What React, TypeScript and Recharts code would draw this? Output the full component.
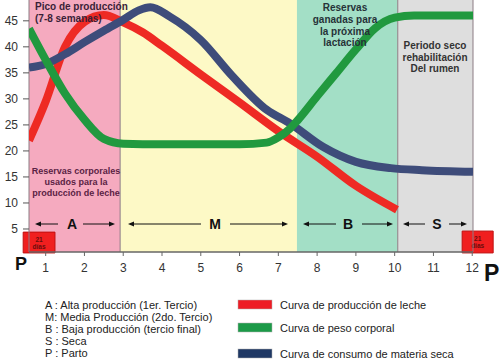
import React from 'react';
import {
  ComposedChart,
  Line,
  XAxis,
  YAxis,
  ReferenceArea,
  ReferenceLine,
} from 'recharts';

// month of lactation (x) and value
const milkMonths = [0.57, 1, 1.5, 2, 2.5, 3, 3.5, 4, 5, 6, 7, 8, 9, 10.06];
const milkValues = [22, 29.5, 40, 44.8, 46.1, 44.7, 42.8, 40.2, 34.7, 29.3, 23.8, 18.9, 13.3, 8.7];

const weightMonths = [0.57, 1, 1.5, 2, 2.5, 3, 4, 5, 6, 6.7, 7, 7.3, 7.5, 8, 8.5, 9, 9.5, 10, 10.5, 11, 12.02];
const weightValues = [43.5, 37.5, 31, 26, 22.3, 21.4, 21.3, 21.3, 21.3, 21.6, 22.6, 24.3, 25.9, 30.5, 35, 39.5, 43.6, 45.6, 46, 46, 46];

const intakeMonths = [0.57, 1, 1.5, 2, 2.5, 3, 3.4, 3.7, 4.2, 5, 5.8, 6.7, 7.3, 8.15, 9, 9.9, 10.7, 12.02];
const intakeValues = [36, 36.7, 38.6, 40.9, 43.1, 45.2, 47, 47.6, 45.8, 41.3, 34.5, 27.9, 25.3, 20.8, 17.9, 16.7, 16.3, 16];

const monthTicks = [1, 2, 3, 4, 5, 6, 7, 8, 9, 10, 11, 12];
const valueTicks = [5, 10, 15, 20, 25, 30, 35, 40, 45];

const stageStart = [0.57, 2.92, 7.48, 10.08];
const stageEnd = [2.92, 7.48, 10.08, 12.02];
const stageColors = ['#f5aabf', '#fdf9c6', '#a3dfc6', '#dedede'];

const glossary = [
  'A : Alta producción (1er. Tercio)',
  'M: Media Producción (2do. Tercio)',
  'B : Baja producción (tercio final)',
  'S : Seca',
  'P : Parto',
];

const series = [
  { name: 'Curva de producción de leche', color: '#ee2a24', months: milkMonths, values: milkValues },
  { name: 'Curva de consumo de materia seca', color: '#3e4c7a', months: intakeMonths, values: intakeValues },
  { name: 'Curva de peso corporal', color: '#21993f', months: weightMonths, values: weightValues },
];

const legendOrder = [
  { name: 'Curva de producción de leche', color: '#ee1c25', y: 300 },
  { name: 'Curva de peso corporal', color: '#1c9a48', y: 323 },
  { name: 'Curva de consumo de materia seca', color: '#1f3864', y: 349 },
];

const font = '"Liberation Sans", Arial, sans-serif';

const boxLabel = (props: any) => {
  const { x, y, width, height } = props.viewBox;
  const cx = x + width / 2;
  return (
    <text x={cx} y={y + height / 2 - 1} textAnchor="middle" fontSize={6.5} fill="#6a0d0d" fontWeight="bold" fontFamily={font}>
      <tspan x={cx} dy={0}>21</tspan>
      <tspan x={cx} dy={7}>días</tspan>
    </text>
  );
};

function Arrow({ from, to, y }: { from: number; to: number; y: number }) {
  const dir = to > from ? 1 : -1;
  return (
    <g>
      <line x1={from} y1={y} x2={to - dir * 4} y2={y} stroke="#111" strokeWidth={1} />
      <polygon points={`${to},${y} ${to - dir * 6},${y - 2.5} ${to - dir * 6},${y + 2.5}`} fill="#111" />
    </g>
  );
}

function Overlay() {
  const arrows = [
    { label: 'A', cx: 72, left: [58, 35], right: [83, 115] },
    { label: 'M', cx: 215, left: [201, 128], right: [230, 288] },
    { label: 'B', cx: 348, left: [336, 303], right: [362, 393] },
    { label: 'S', cx: 437, left: [425, 403], right: [449, 467] },
  ];
  return (
    <svg width={500} height={364} style={{ position: 'absolute', left: 0, top: 0, pointerEvents: 'none' }} fontFamily={font}>
      <g fontWeight="bold" fontSize={10} fill="#3a1f38">
        <text x={35} y={10}>Pico de producción</text>
        <text x={35} y={22}>(7-8 semanas)</text>
      </g>
      <g fontWeight="bold" fontSize={9} fill="#5a2244" textAnchor="middle">
        <text x={76} y={174}>Reservas corporales</text>
        <text x={76} y={185}>usados para la</text>
        <text x={76} y={196}>producción de leche</text>
      </g>
      <g fontWeight="bold" fontSize={10} fill="#263238" textAnchor="middle">
        <text x={345} y={11}>Reservas</text>
        <text x={345} y={23}>ganadas para</text>
        <text x={345} y={34.5}>la próxima</text>
        <text x={345} y={46}>lactación</text>
      </g>
      <g fontWeight="bold" fontSize={10} fill="#333" textAnchor="middle">
        <text x={435} y={49}>Periodo seco</text>
        <text x={435} y={60.5}>rehabilitación</text>
        <text x={435} y={71.5}>Del rumen</text>
      </g>
      {arrows.map((a) => (
        <g key={a.label}>
          <Arrow from={a.left[0]} to={a.left[1]} y={224} />
          <Arrow from={a.right[0]} to={a.right[1]} y={224} />
          <text x={a.cx} y={229} textAnchor="middle" fontWeight="bold" fontSize={14} fill="#111">{a.label}</text>
        </g>
      ))}
      <text x={15} y={270} fontSize={18} fontWeight="bold" fill="#111">P</text>
      <text x={484} y={281} fontSize={23} fontWeight="bold" fill="#111">P</text>
      <g fontSize={11} fill="#222">
        {glossary.map((g, i) => (
          <text key={g} x={45} y={309 + i * 12}>{g}</text>
        ))}
      </g>
      {legendOrder.map((l) => (
        <g key={l.name}>
          <rect x={238} y={l.y} width={34} height={9} fill={l.color} stroke="#b0b0b0" strokeWidth={0.5} />
          <text x={280} y={l.y + 9} fontSize={11} fill="#222">{l.name}</text>
        </g>
      ))}
    </svg>
  );
}

export default function App() {
  return (
    <div style={{ position: 'absolute', left: 0, top: 0, width: 500, height: 364, background: '#fff' }}>
      <ComposedChart width={500} height={364} margin={{ top: 0, right: 27, bottom: 92, left: 3 }}>
        <XAxis
          type="number"
          dataKey="month"
          domain={[0.57, 12.02]}
          allowDataOverflow
          ticks={monthTicks}
          height={20}
          tickSize={4}
          tickMargin={7}
          tick={{ fontSize: 12, fill: '#333', fontFamily: font }}
          axisLine={{ stroke: '#666', strokeWidth: 1.5 }}
          tickLine={{ stroke: '#666' }}
        />
        <YAxis
          type="number"
          domain={[0.58, 49]}
          allowDataOverflow
          ticks={valueTicks}
          width={26}
          tickSize={6}
          tickMargin={5}
          axisLine={false}
          tick={{ fontSize: 12, fill: '#333', fontFamily: font }}
          tickLine={{ stroke: '#555' }}
        />
        {stageStart.map((s, i) => (
          <ReferenceArea key={i} x1={s} x2={stageEnd[i]} y1={0.58} y2={49} fill={stageColors[i]} fillOpacity={1} stroke="none" />
        ))}
        {[0.57, 2.92, 10.08, 12.02].map((x) => (
          <ReferenceLine key={x} x={x} stroke="#8c7c84" strokeWidth={1} />
        ))}
        {series.map((s) => (
          <Line
            key={s.name}
            data={s.months.map((m, i) => ({ month: m, value: s.values[i] }))}
            dataKey="value"
            name={s.name}
            type="monotone"
            stroke={s.color}
            strokeWidth={8}
            dot={false}
            activeDot={false}
            isAnimationActive={false}
          />
        ))}
        <ReferenceArea x1={0.42} x2={1.24} y1={0.4} y2={4.4} fill="#f01f1f" fillOpacity={1} stroke="#c01010" ifOverflow="visible" label={boxLabel} />
        <ReferenceArea x1={11.74} x2={12.54} y1={0.4} y2={4.6} fill="#f01f1f" fillOpacity={1} stroke="#c01010" ifOverflow="visible" label={boxLabel} />
      </ComposedChart>
      <Overlay />
    </div>
  );
}
